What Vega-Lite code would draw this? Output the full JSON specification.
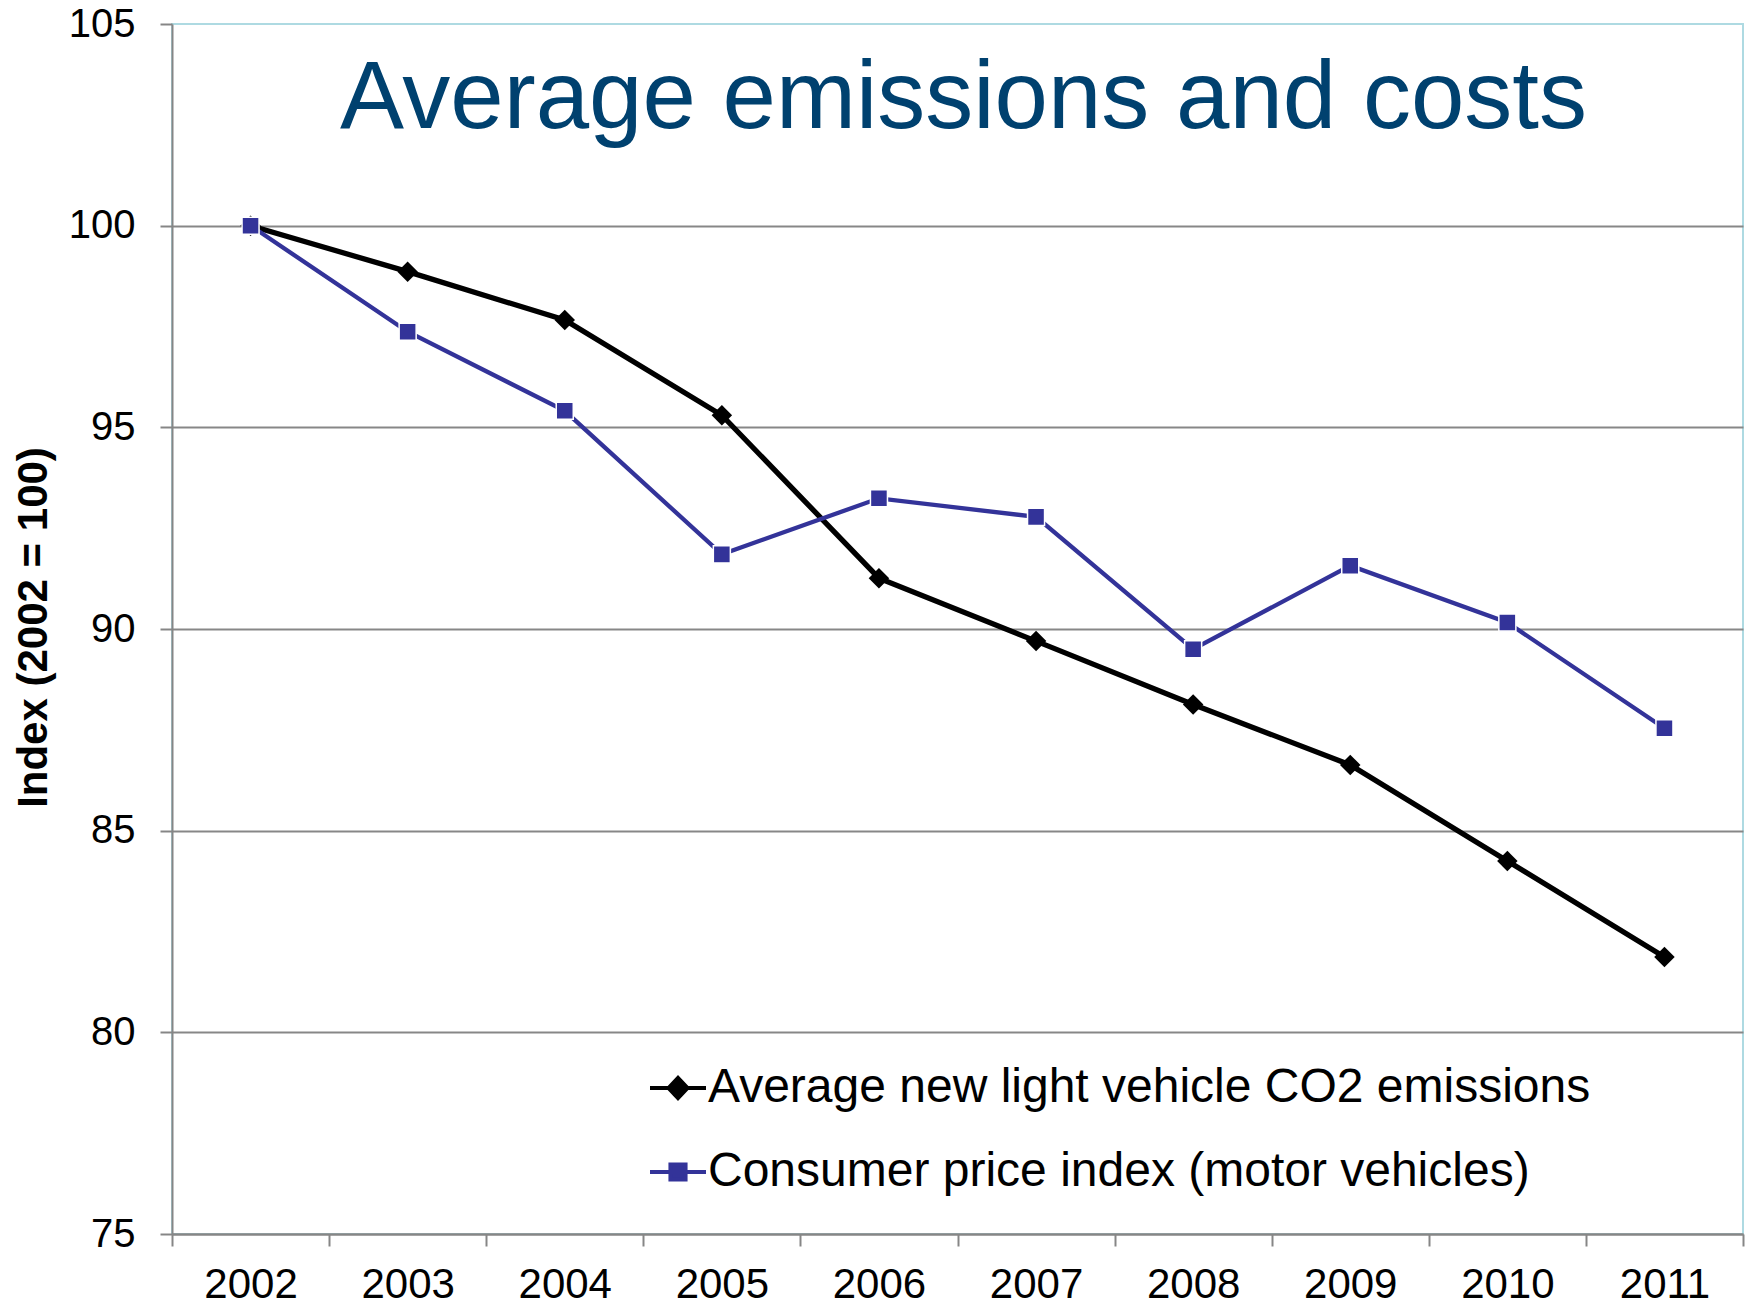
{
  "$schema": "https://vega.github.io/schema/vega-lite/v6.json",
  "width": 1571,
  "height": 1210,
  "autosize": {"type": "none"},
  "padding": {"left": 172, "top": 24, "right": 13, "bottom": 72},
  "background": "white",
  "title": {
    "text": "Average emissions and costs",
    "fontSize": 96,
    "font": "Liberation Sans",
    "fontWeight": "normal",
    "color": "#00416F",
    "anchor": "middle",
    "frame": "group",
    "baseline": "alphabetic",
    "offset": -220,
    "dx": 6
  },
  "config": {
    "font": "Liberation Sans",
    "view": {"stroke": "#AEDAE2", "strokeWidth": 2}
  },
  "data": {
    "values": [
      {"year": 2002, "series": "Average new light vehicle CO2 emissions", "value": 100},
      {"year": 2003, "series": "Average new light vehicle CO2 emissions", "value": 98.86},
      {"year": 2004, "series": "Average new light vehicle CO2 emissions", "value": 97.66},
      {"year": 2005, "series": "Average new light vehicle CO2 emissions", "value": 95.3},
      {"year": 2006, "series": "Average new light vehicle CO2 emissions", "value": 91.26},
      {"year": 2007, "series": "Average new light vehicle CO2 emissions", "value": 89.7},
      {"year": 2008, "series": "Average new light vehicle CO2 emissions", "value": 88.13},
      {"year": 2009, "series": "Average new light vehicle CO2 emissions", "value": 86.63},
      {"year": 2010, "series": "Average new light vehicle CO2 emissions", "value": 84.25},
      {"year": 2011, "series": "Average new light vehicle CO2 emissions", "value": 81.87},
      {"year": 2002, "series": "Consumer price index (motor vehicles)", "value": 100},
      {"year": 2003, "series": "Consumer price index (motor vehicles)", "value": 97.37},
      {"year": 2004, "series": "Consumer price index (motor vehicles)", "value": 95.41},
      {"year": 2005, "series": "Consumer price index (motor vehicles)", "value": 91.85},
      {"year": 2006, "series": "Consumer price index (motor vehicles)", "value": 93.24},
      {"year": 2007, "series": "Consumer price index (motor vehicles)", "value": 92.78},
      {"year": 2008, "series": "Consumer price index (motor vehicles)", "value": 89.5},
      {"year": 2009, "series": "Consumer price index (motor vehicles)", "value": 91.57},
      {"year": 2010, "series": "Consumer price index (motor vehicles)", "value": 90.16},
      {"year": 2011, "series": "Consumer price index (motor vehicles)", "value": 87.54}
    ]
  },
  "encoding": {
    "x": {
      "field": "year",
      "type": "ordinal",
      "scale": {"type": "band", "paddingInner": 0, "paddingOuter": 0},
      "axis": {
        "title": null,
        "labelAngle": 0,
        "tickBand": "extent",
        "ticks": true,
        "tickSize": 12,
        "tickColor": "#868686",
        "tickWidth": 2,
        "domainColor": "#868686",
        "domainWidth": 2,
        "grid": false,
        "labelFont": "Liberation Sans",
        "labelFontSize": 42,
        "labelColor": "#000000",
        "labelPadding": 18
      }
    },
    "y": {
      "field": "value",
      "type": "quantitative",
      "scale": {"domain": [75, 105], "nice": false, "zero": false},
      "axis": {
        "title": "Index (2002 = 100)",
        "values": [75, 80, 85, 90, 95, 100, 105],
        "tickSize": 12,
        "tickColor": "#868686",
        "tickWidth": 2,
        "domainColor": "#868686",
        "domainWidth": 2,
        "grid": true,
        "gridColor": "#878787",
        "gridWidth": 2,
        "gridOpacity": {"condition": {"test": "datum.value >= 105", "value": 0}, "value": 1},
        "labelFont": "Liberation Sans",
        "labelFontSize": 40,
        "labelColor": "#000000",
        "labelPadding": 25,
        "titleFont": "Liberation Sans",
        "titleFontSize": 42,
        "titleFontWeight": "bold",
        "titleColor": "#000000",
        "titleAngle": -90,
        "titleAlign": "center",
        "titleBaseline": "alphabetic",
        "titleX": -126,
        "titleY": 603
      }
    },
    "color": {
      "field": "series",
      "type": "nominal",
      "scale": {
        "domain": ["Average new light vehicle CO2 emissions", "Consumer price index (motor vehicles)"],
        "range": ["#000000", "#333399"]
      },
      "legend": {
        "title": null,
        "orient": "none",
        "legendX": 476,
        "legendY": 1034,
        "padding": 0,
        "symbolSize": 3136,
        "symbolStrokeWidth": 4,
        "labelFont": "Liberation Sans",
        "labelFontSize": 48,
        "labelColor": "#000000",
        "labelOffset": 0,
        "rowPadding": 30,
        "labelLimit": 1200,
        "encode": {
          "symbols": {
            "update": {
              "shape": {"signal": "datum.value === 'Average new light vehicle CO2 emissions' ? 'M-1,0H1M-0.34,0L0,-0.36L0.34,0L0,0.36Z' : 'M-1,0H1M-0.27,-0.27H0.27V0.27H-0.27Z'"},
              "size": {"value": 3136},
              "fill": {"signal": "datum.value === 'Average new light vehicle CO2 emissions' ? '#000000' : '#333399'"},
              "stroke": {"signal": "datum.value === 'Average new light vehicle CO2 emissions' ? '#000000' : '#333399'"},
              "strokeWidth": {"value": 4},
              "opacity": {"value": 1},
              "fillOpacity": {"value": 1},
              "strokeOpacity": {"value": 1}
            }
          }
        }
      }
    }
  },
  "layer": [
    {
      "transform": [{"filter": "datum.series === 'Average new light vehicle CO2 emissions'"}],
      "mark": {"type": "line", "strokeWidth": 5.3}
    },
    {
      "transform": [{"filter": "datum.series === 'Consumer price index (motor vehicles)'"}],
      "mark": {"type": "line", "strokeWidth": 4.3}
    },
    {
      "transform": [{"filter": "datum.series === 'Average new light vehicle CO2 emissions'"}],
      "mark": {"type": "point", "shape": "diamond", "filled": true, "opacity": 1, "size": 420, "strokeWidth": 0}
    },
    {
      "transform": [{"filter": "datum.series === 'Consumer price index (motor vehicles)'"}],
      "mark": {"type": "point", "shape": "square", "filled": true, "opacity": 1, "size": 290, "stroke": "#ffffff", "strokeWidth": 1.5}
    }
  ]
}
